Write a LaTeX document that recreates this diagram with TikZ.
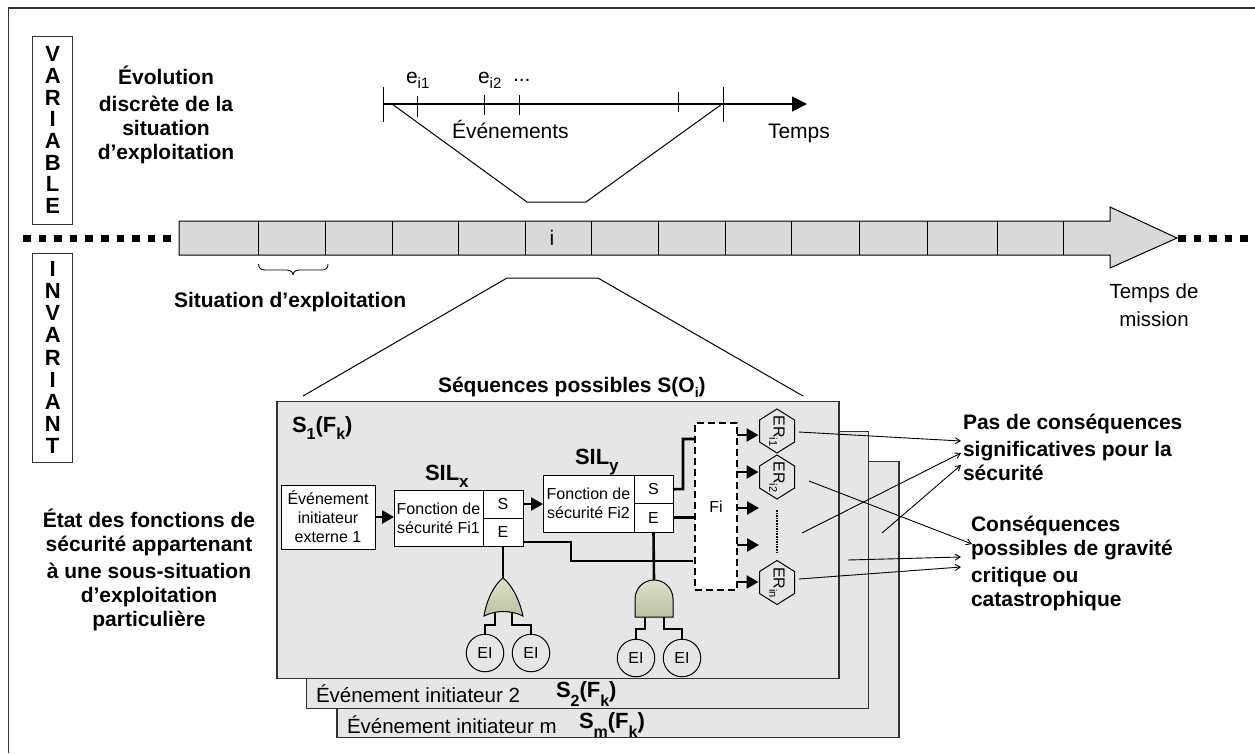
\documentclass[tikz,border=0pt]{standalone}
\usepackage{fontspec}
\setmainfont{Liberation Sans}
\usetikzlibrary{arrows.meta}
\newcommand\fsz[2]{\fontsize{#1}{#2}\selectfont}
\newcommand\sbs[3][0.28em]{\raisebox{-#1}{\fsz{#2}{#2}#3}}
\definecolor{barfill}{HTML}{D9D9D9}
\definecolor{panelfill}{HTML}{E6E6E6}
\definecolor{edge}{HTML}{303030}
\definecolor{gateA}{HTML}{DDE0CC}
\definecolor{gateB}{HTML}{BCC2A0}
\tikzset{
  x=1pt,y=-1pt,
  every node/.style={inner sep=0pt,outer sep=0pt},
  headline/.style={font=\fsz{21}{24}\bfseries,align=center},
  headleft/.style={font=\fsz{21}{24}\bfseries,align=left,anchor=west},
  plainbase/.style={font=\fsz{20.5}{28},anchor=base west},
  boldbase/.style={font=\fsz{21}{24}\bfseries,anchor=base west},
  small/.style={font=\fsz{16}{19}},
  whitebox/.style={draw=black,fill=white,line width=1pt,small,align=center},
  letterbox/.style={draw=edge,fill=white,line width=1pt,align=center,minimum width=39.5pt},
  panel/.style={draw=edge,fill=panelfill,line width=1.1pt,minimum width=562pt,minimum height=276.5pt},
  bigline/.style={line width=2.6pt},
  flow/.style={line width=2.6pt,-{Triangle[length=12pt,width=13pt]}},
  thinarrow/.style={line width=0.9pt,-{Straight Barb[length=5pt,width=6pt]}},
  tick/.style={line width=1pt},
  dotline/.style={line width=7.5pt,dash pattern=on 7.5pt off 8.1pt},
  hexline/.style={draw=black,fill=panelfill,line width=1pt},
  hextext/.style={font=\fsz{16}{16},rotate=-90},
  eventc/.style={circle,draw=black,fill=panelfill,line width=1pt,minimum size=37.5pt,small},
  gate/.style={draw=black,line width=1pt,top color=gateA,bottom color=gateB},
}
\newcommand\hexat[1]{\draw[hexline] (#1) ++(0,-22) -- ++(17.5,11) -- ++(0,22) -- ++(-17.5,11) -- ++(-17.5,-11) -- ++(0,-22) -- cycle;}
\begin{document}
\begin{tikzpicture}
\useasboundingbox (0,0) rectangle (1255,753);
% open frame
\coordinate (fbl) at (8.5,753);
\coordinate (ftl) at (8.5,8);
\coordinate (ftr) at (1255,8);
\draw[line width=1.2pt,edge] (fbl) -- (ftl) -- (ftr);

% side labels
\node[letterbox,minimum height=188pt,font=\fsz{22}{21.7}\bfseries] (variable) at (52.7,130) {V\\A\\R\\I\\A\\B\\L\\E};
\node[letterbox,minimum height=209pt,font=\fsz{22}{22.1}\bfseries] (invariant) at (52.7,357.5) {I\\N\\V\\A\\R\\I\\A\\N\\T};

% head texts
\node[headline] (evol) at (166,115) {Évolution\\[3pt]discrète de la\\situation\\d’exploitation};
\node[headline] (etat) at (149,570) {État des fonctions de\\sécurité appartenant\\[3pt]à une sous-situation\\d’exploitation\\particulière};
\node[boldbase] (sitex) at (174,307) {Situation d’exploitation};

% timeline
\coordinate (tlstart) at (383,104);
\coordinate (tlend) at (807,104);
\draw[line width=1.6pt,-{Triangle[length=15pt,width=15pt]}] (tlstart) -- (tlend);
\foreach \nm/\tx/\ta/\tb in {t0/383/87/122,t1/417/96/117,t2/484/95/115,t3/519/95/115,t4/678/92/112,t5/723/87/122}{
  \coordinate (\nm a) at (\tx,\ta);
  \coordinate (\nm b) at (\tx,\tb);
  \draw[tick] (\nm a) -- (\nm b);
}
\node[plainbase,font=\fsz{21}{24}] (ei1) at (406,83) {e\sbs{15}{i1}};
\node[plainbase,font=\fsz{21}{24}] (ei2) at (478,83) {e\sbs{15}{i2}};
\node[plainbase,font=\fsz{21}{24}] (edots) at (513,81) {...};
\node[plainbase,font=\fsz{21}{24}] (evts) at (452,138) {Événements};
\node[plainbase,font=\fsz{21}{24}] (temps) at (768,138) {Temps};

% upper trapezoid
\coordinate (ua) at (392,104);
\coordinate (ub) at (527,202);
\coordinate (uc) at (586,202);
\coordinate (ud) at (722,104);
\draw[line width=1pt] (ua) -- (ub) -- (uc) -- (ud);

% mission bar
\path[draw=black,line width=1pt,fill=barfill]
  (179,221) -- (1110,221) -- (1110,207) -- (1177,238) -- (1110,268) -- (1110,255) -- (179,255) -- cycle;
\foreach \dx in {258,325,392,458,525,591,658,725,791,859,927,997,1063}{
  \coordinate (dt) at (\dx,221);
  \coordinate (db) at (\dx,255);
  \draw[line width=1pt] (dt) -- (db);
}
\node[font=\fsz{21}{24},anchor=base] (ilab) at (552,245) {i};
\coordinate (dla) at (23,238.5);
\coordinate (dlb) at (172,238.5);
\coordinate (dra) at (1178,238.5);
\coordinate (drb) at (1249,238.5);
\draw[dotline] (dla) -- (dlb);
\draw[dotline] (dra) -- (drb);

% brace
\coordinate (bl) at (258.5,264);
\coordinate (bm) at (293,274.5);
\coordinate (br) at (328,264);
\draw[line width=0.9pt] (bl) .. controls (258.5,268) and (261,270) .. (265,270)
  -- (287,270) .. controls (290,270) and (292,271) .. (bm)
  .. controls (294,271) and (296,270) .. (299,270)
  -- (322,270) .. controls (326,270) and (328,268) .. (br);

\node[font=\fsz{20.5}{28},align=center] (mission) at (1154,305) {Temps de\\mission};

% lower trapezoid
\coordinate (la) at (303,396);
\coordinate (lb) at (507,278);
\coordinate (lc) at (598,278);
\coordinate (ld) at (803,396);
\draw[line width=1pt] (la) -- (lb) -- (lc) -- (ld);

\node[boldbase] (seq) at (438,392) {Séquences possibles S(O\sbs{14}{i})};

% stacked panels
\node[panel] (p3) at (618,599.5) {};
\node[panel] (p2) at (587.5,570) {};
\node[panel] (p1) at (558,540) {};

\node[plainbase] (ev2) at (316,702) {Événement initiateur 2};
\node[plainbase] (evm) at (347,733) {Événement initiateur m};
\node[boldbase,font=\fsz{22}{24}\bfseries] (s2) at (556,697) {S\sbs[9pt]{16}{2}(F\sbs[9pt]{16}{k})};
\node[boldbase,font=\fsz{22}{24}\bfseries] (sm) at (579,728) {S\sbs[9pt]{16}{m}(F\sbs[9pt]{16}{k})};
\node[boldbase,font=\fsz{22}{24}\bfseries] (s1) at (292,432) {S\sbs[7pt]{16}{1}(F\sbs[7pt]{16}{k})};
\node[boldbase,font=\fsz{22}{24}\bfseries] (silx) at (425,480) {SIL\sbs[7pt]{17}{x}};
\node[boldbase,font=\fsz{22}{24}\bfseries] (sily) at (575,464) {SIL\sbs[7pt]{17}{y}};

% boxes
\node[whitebox,minimum width=94pt,minimum height=64pt] (ev1) at (328,517) {Événement\\initiateur\\externe 1};
\node[whitebox,minimum width=89pt,minimum height=56pt] (f1) at (438.5,518) {Fonction de\\sécurité Fi1};
\node[whitebox,minimum width=40pt,minimum height=28pt] (f1s) at (503,504) {S};
\node[whitebox,minimum width=40pt,minimum height=28pt] (f1e) at (503,532) {E};
\node[whitebox,minimum width=91pt,minimum height=57pt] (f2) at (588.5,503.5) {Fonction de\\sécurité Fi2};
\node[whitebox,minimum width=39pt,minimum height=28.5pt] (f2s) at (653.5,489.25) {S};
\node[whitebox,minimum width=39pt,minimum height=28.5pt] (f2e) at (653.5,517.75) {E};
\node[draw=black,fill=white,line width=1.1pt,dash pattern=on 7pt off 4pt,minimum width=42pt,minimum height=167pt,small] (fi) at (716,506.5) {Fi\hspace{4pt}};

% flows between boxes
\draw[flow] (ev1.east) -- (ev1.east -| f1.west);
\draw[flow] (f1s.east) -- (f1s.east -| f2.west);

\coordinate (e1a) at (571,542);
\coordinate (e1b) at (571,561);
\coordinate (e1c) at (693,561);
\draw[bigline] (f1e.east |- e1a) -- (e1a) -- (e1b) -- (e1c);
\coordinate (s2a) at (683,489);
\coordinate (s2b) at (683,439);
\draw[bigline] (f2s.east) -- (s2a) -- (s2b) -- (s2b -| fi.west);
\draw[bigline] (f2e.east) -- (f2e.east -| fi.west);

% OR gate
\coordinate (orn) at (503,578);
\coordinate (orw) at (484,616);
\coordinate (ore) at (523,616);
\coordinate (orm) at (503,611.5);
\node[eventc] (c1) at (485,653) {EI};
\node[eventc] (c2) at (531,653) {EI};
\coordinate (ol1) at (495,613);
\coordinate (ol2) at (495,625);
\coordinate (or1) at (512,613);
\coordinate (or2) at (512,625);
\draw[bigline] (ol1) -- (ol2) -- (ol2 -| c1.north) -- (c1.north);
\draw[bigline] (or1) -- (or2) -- (or2 -| c2.north) -- (c2.north);
\draw[bigline] (orn -| f1e.south) -- (f1e.south);
\draw[gate] (orn) .. controls (495,584) and (487,598) .. (orw)
  .. controls (490,613) and (497,611.5) .. (orm)
  .. controls (510,611.5) and (517,613) .. (ore)
  .. controls (519,598) and (511,584) .. (orn) -- cycle;

% AND gate
\coordinate (andn) at (654,580);
\node[eventc] (c3) at (636,658) {EI};
\node[eventc] (c4) at (682,658) {EI};
\coordinate (al1) at (645,617);
\coordinate (al2) at (645,629);
\coordinate (ar1) at (664,617);
\coordinate (ar2) at (664,629);
\draw[bigline] (al1) -- (al2) -- (al2 -| c3.north) -- (c3.north);
\draw[bigline] (ar1) -- (ar2) -- (ar2 -| c4.north) -- (c4.north);
\draw[bigline] (f2e.south) -- (andn);
\draw[gate] (635,617) -- (635,599) arc[start angle=180,end angle=360,radius=19] -- (673,617) -- cycle;

% consequence hexagons
\coordinate (h1c) at (777,431);
\coordinate (h2c) at (777,477);
\coordinate (h3c) at (777,582.5);
\hexat{h1c}\hexat{h2c}\hexat{h3c}
\node[hextext] (h1) at (h1c) {ER\sbs{11}{i1}};
\node[hextext] (h2) at (h2c) {ER\sbs{11}{i2}};
\node[hextext] (h3) at (h3c) {ER\sbs{11}{in}};
\coordinate (m1) at (758.5,435);
\coordinate (m2) at (758.5,472);
\coordinate (m3) at (759,508);
\coordinate (m4) at (759,545);
\coordinate (m5) at (758.5,582);
\coordinate (dva) at (777,510);
\coordinate (dvb) at (777,552);
\draw[line width=1.2pt,dash pattern=on 1.6pt off 1pt] (dva) -- (dvb);
\foreach \m in {m1,m2,m3,m4,m5}{\draw[flow] (fi.east |- \m) -- (\m);}

% result labels
\node[headleft] (pas) at (963,447) {Pas de conséquences\\[3pt]significatives pour la\\sécurité};
\node[headleft] (cons) at (971,563) {Conséquences\\possibles de gravité\\[3pt]critique ou\\catastrophique};

% thin arrows
\coordinate (a1s) at (799,432);
\coordinate (a1e) at (961,441);
\coordinate (a2s) at (802,533);
\coordinate (a2e) at (961,453);
\coordinate (a3s) at (882,533);
\coordinate (a3e) at (961,465);
\coordinate (a4s) at (809,481);
\coordinate (a4e) at (972,544);
\coordinate (a5s) at (848,560);
\coordinate (a5e) at (961,557);
\coordinate (a6s) at (799,579);
\coordinate (a6e) at (961,567);
\draw[thinarrow] (a1s) -- (a1e);
\draw[thinarrow] (a2s) -- (a2e);
\draw[thinarrow] (a3s) -- (a3e);
\draw[thinarrow] (a4s) -- (a4e);
\draw[thinarrow] (a5s) -- (a5e);
\draw[thinarrow] (a6s) -- (a6e);
\end{tikzpicture}
\end{document}
